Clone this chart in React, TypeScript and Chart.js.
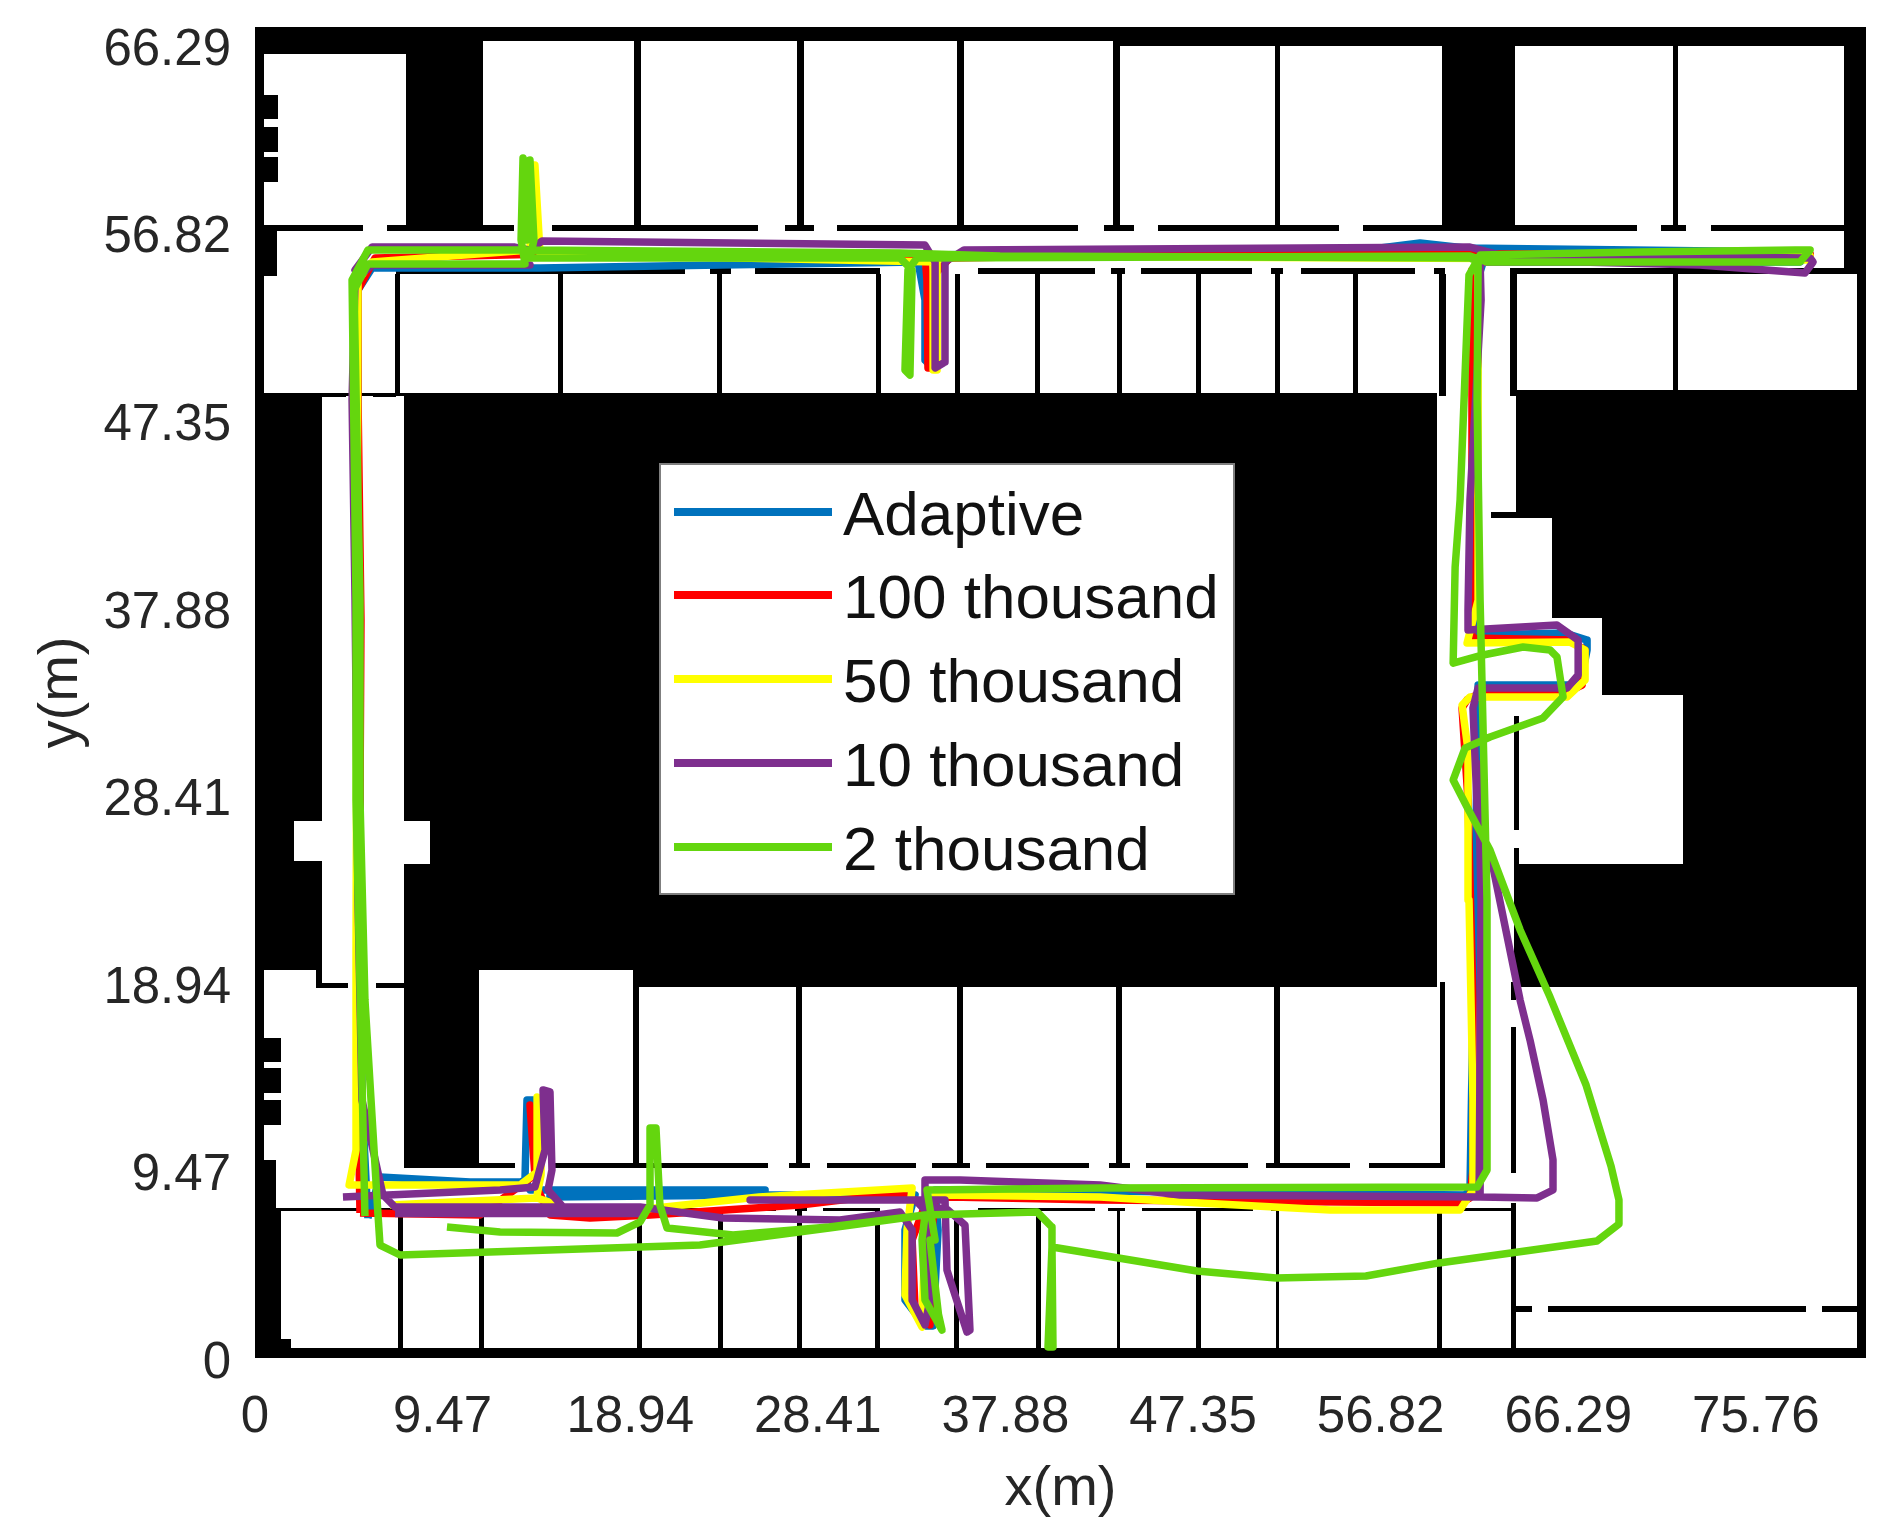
import { useEffect, useRef } from "react"
import { Chart, registerables } from "chart.js"

Chart.register(...registerables)

const FONT = "'Liberation Sans', Arial, sans-serif"

const xTickValues = [0, 9.47, 18.94, 28.41, 37.88, 47.35, 56.82, 66.29, 75.76]
const yTickValues = [0, 9.47, 18.94, 28.41, 37.88, 47.35, 56.82, 66.29]
const xMax = 81.32
const yMax = 67.19

// floor plan, everything in metres. the plot background is black, rooms are cut out of it
const roomRects = [
  [0.45, 65.82, 7.62, 56.89],
  [11.51, 66.48, 43.46, 56.89],
  [43.46, 66.23, 59.92, 56.89],
  [63.6, 66.23, 80.21, 56.89],
  [1.11, 56.89, 80.21, 55.02],
  [0.45, 54.62, 1.11, 48.71],
  [1.11, 55.02, 60.07, 48.71],
  [59.67, 55.02, 63.6, 48.56],
  [63.6, 54.72, 80.87, 48.86],
  [59.67, 48.56, 63.65, 42.71],
  [59.67, 42.71, 62.39, 42.45],
  [59.67, 42.45, 65.47, 37.36],
  [59.67, 37.36, 68.0, 33.47],
  [59.67, 33.47, 72.09, 24.94],
  [59.67, 24.94, 63.76, 0.5],
  [63.6, 18.73, 80.87, 0.5],
  [3.38, 48.56, 7.52, 18.73],
  [1.97, 27.11, 3.38, 25.09],
  [7.52, 27.11, 8.83, 24.94],
  [0.45, 19.59, 3.08, 18.73],
  [0.45, 18.73, 7.52, 9.99],
  [1.06, 9.99, 7.52, 9.59],
  [1.06, 9.59, 59.92, 7.42],
  [11.31, 19.59, 19.08, 9.59],
  [19.38, 18.73, 59.92, 9.59],
  [1.31, 7.42, 63.6, 0.96],
  [1.82, 0.96, 63.6, 0.5],
]

const blockRects = [
  [0.45, 63.76, 1.16, 62.54],
  [0.45, 62.14, 1.16, 60.88],
  [0.45, 60.63, 1.16, 59.36],
  [0.35, 16.15, 1.31, 14.94],
  [0.35, 14.64, 1.31, 13.38],
  [0.35, 13.02, 1.31, 11.76],
]

const horizontalWalls = [
  { y: 57.04, w: 6, runs: [[0.35, 5.45], [6.66, 13.07], [14.99, 25.39], [26.75, 28.22], [29.38, 41.54], [42.86, 44.37], [45.58, 54.72], [55.93, 59.92], [63.6, 69.76], [70.97, 72.24], [73.5, 80.21]] },
  { y: 54.87, w: 6, runs: [[7.12, 21.71], [22.97, 24.03], [25.24, 31.55], [36.5, 42.4], [43.21, 43.92], [44.72, 50.33], [51.29, 51.89], [52.8, 58.56], [59.52, 60.07], [63.35, 64.01], [65.22, 78.29], [79.5, 80.87]] },
  { y: 48.63, w: 3, runs: [[3.38, 4.59], [5.96, 7.12]] },
  { y: 42.58, w: 5, runs: [[62.39, 65.47]] },
  { y: 18.85, w: 5, runs: [[3.08, 4.69], [6.11, 7.52]] },
  { y: 9.72, w: 5, runs: [[11.26, 13.12], [14.99, 25.9], [26.96, 28.02], [28.87, 33.37], [34.17, 36.09], [36.9, 42.1], [43.11, 44.17], [44.98, 50.13], [51.03, 55.27], [56.23, 60.07]] },
  { y: 7.5, w: 3, runs: [[1.06, 26.3], [27.26, 27.87], [28.67, 31.55], [36.5, 42.4], [43.06, 43.92], [44.78, 50.38], [51.29, 63.5]] },
  { y: 2.47, w: 6, runs: [[63.5, 64.46], [65.27, 78.29], [79.1, 80.87]] },
]

const verticalWalls = [
  { from: 56.89, to: 66.5, w: 7, xs: [19.28, 27.51, 35.59, 43.46] },
  { from: 56.89, to: 66.5, w: 5, xs: [51.59, 71.68] },
  { from: 48.71, to: 54.72, w: 5, xs: [7.17, 15.4, 23.42, 31.45, 35.44, 39.47, 43.61, 47.6, 51.59, 55.53, 71.68] },
  { from: 48.56, to: 54.72, w: 7, xs: [59.92, 63.48] },
  { from: 9.59, to: 18.73, w: 6, xs: [27.46, 35.59, 43.61, 51.59] },
  { from: 9.59, to: 18.98, w: 5, xs: [59.92] },
  { from: 0.5, to: 7.42, w: 5, xs: [7.32, 11.41, 19.38, 23.47, 27.46, 31.4, 35.39, 39.53, 47.6, 59.77, 63.5] },
  { from: 0.5, to: 7.42, w: 3, xs: [43.56, 51.59] },
  { from: 18.07, to: 18.98, w: 5, xs: [63.5] },
  { from: 9.34, to: 16.71, w: 5, xs: [63.5] },
  { from: 0.5, to: 7.82, w: 5, xs: [63.5] },
  { from: 26.65, to: 32.41, w: 5, xs: [63.63] },
  { from: 18.98, to: 25.74, w: 5, xs: [63.63] },
]

// estimated trajectories, [x, y] in metres
const adaptive = [
  [5.7, 7.07], [5.4, 13.02], [5.3, 28.17], [5.2, 43.31], [5.2, 53.91], [5.91, 55.02], [14.39, 55.02], [23.47, 55.18],
  [33.47, 55.33], [33.82, 53.41], [33.82, 50.38], [34.18, 49.98], [34.33, 55.68], [47.7, 55.93], [56.79, 56.03],
  [58.81, 56.29], [61.08, 56.03], [77.99, 55.83], [78.5, 55.68], [77.99, 55.33], [62.0, 55.33], [61.74, 54.5],
  [61.74, 36.5], [66.13, 36.6], [67.24, 36.24], [67.24, 35.74], [66.89, 33.97], [61.74, 33.97], [61.74, 33.22],
  [61.33, 8.48], [61.08, 8.23], [37.61, 8.48], [34.33, 8.48], [34.48, 6.46], [34.23, 1.62], [33.82, 1.62], [32.81, 2.93],
  [32.81, 6.46], [33.32, 8.23], [25.49, 8.23], [14.89, 8.13], [14.89, 8.48], [25.75, 8.48], [14.89, 8.48], [13.88, 8.48],
  [13.63, 9.09], [13.73, 13.02], [14.03, 13.02], [14.24, 9.24], [13.38, 8.88], [10.85, 8.88], [6.31, 9.14], [5.7, 7.07],
]

const hundredThousand = [
  [5.3, 7.32], [5.2, 13.02], [5.3, 28.17], [5.35, 37.25], [5.2, 48.36], [5.2, 53.91], [6.06, 55.53], [14.89, 55.73],
  [33.82, 55.68], [33.92, 54.42], [33.97, 49.98], [34.18, 49.98], [34.28, 54.67], [35.08, 55.53], [47.7, 55.73],
  [78.5, 55.73], [78.5, 55.53], [62.34, 55.53], [61.43, 54.92], [61.43, 36.35], [66.38, 36.24], [67.14, 35.74],
  [66.99, 33.97], [66.13, 33.57], [61.84, 33.57], [61.18, 33.22], [60.93, 32.81], [61.23, 28.17], [61.48, 18.07],
  [61.48, 9.49], [61.33, 8.08], [60.83, 7.82], [42.66, 7.98], [35.08, 8.13], [34.33, 7.98], [34.07, 5.45], [34.07, 1.67],
  [33.32, 2.42], [33.17, 5.96], [33.82, 7.72], [32.56, 8.33], [27.51, 7.72], [19.94, 7.22], [16.91, 7.07], [14.89, 7.22],
  [14.29, 8.48], [14.13, 9.74], [14.03, 12.01], [13.88, 12.77], [14.13, 9.24], [11.36, 7.22], [5.3, 7.32],
]

const fiftyThousand = [
  [6.81, 7.72], [14.24, 8.08], [14.99, 7.82], [15.14, 7.42], [18.78, 7.42], [25.44, 8.13], [33.17, 8.58], [32.91, 6.46],
  [32.81, 3.18], [33.67, 1.56], [33.82, 6.46], [34.33, 8.23], [42.66, 8.13], [47.7, 7.82], [54.27, 7.47], [60.83, 7.47],
  [61.48, 8.48], [61.48, 13.02], [61.28, 23.12], [61.23, 30.69], [60.93, 32.96], [61.33, 33.37], [66.23, 33.37],
  [67.14, 34.23], [67.14, 35.74], [66.38, 36.14], [61.18, 36.09], [61.74, 38.26], [61.74, 53.41], [61.74, 55.33],
  [78.5, 55.63], [78.5, 55.43], [35.08, 55.63], [34.23, 55.33], [34.23, 49.87], [34.43, 49.87], [34.43, 55.33],
  [14.39, 55.73], [14.13, 60.22], [13.98, 60.22], [13.88, 55.93], [5.91, 55.33], [5.2, 54.42], [5.1, 20.75], [5.1, 10.5],
  [4.75, 8.73], [13.38, 8.73], [14.24, 9.39], [14.24, 13.18], [14.44, 13.02], [14.44, 9.24], [14.24, 8.23],
]

const tenThousand = [
  [4.44, 8.13], [12.37, 8.48], [14.13, 8.63], [14.64, 10.5], [14.54, 13.53], [14.89, 13.43], [14.99, 9.49], [14.79, 8.48],
  [15.55, 7.62], [19.44, 7.62], [23.62, 7.07], [29.53, 6.97], [32.56, 7.37], [33.17, 6.46], [33.17, 2.93], [33.82, 1.67],
  [34.07, 2.93], [33.82, 7.47], [33.32, 7.98], [24.99, 7.98], [34.83, 7.98], [34.93, 4.44], [35.94, 1.31], [36.09, 1.41],
  [35.84, 6.71], [34.98, 7.47], [33.82, 7.72], [33.82, 8.99], [35.59, 8.99], [42.66, 8.73], [46.69, 8.23], [61.79, 8.13],
  [61.89, 23.0], [61.74, 30.0], [61.89, 23.0], [61.84, 8.13],
  [64.72, 8.08], [65.52, 8.48], [65.52, 10.0], [65.02, 13.02], [64.36, 16.05], [63.86, 18.07], [62.49, 24.79], [61.74, 26.65],
  [61.48, 32.81], [61.74, 33.82], [66.23, 33.82], [66.79, 34.48], [66.79, 36.24], [65.72, 37.0], [61.23, 36.75], [61.23, 37.76],
  [61.33, 43.31], [61.89, 53.41], [61.84, 55.33], [66.89, 55.33], [72.94, 55.18], [78.24, 54.77], [78.65, 55.33], [78.5, 55.53],
  [62.85, 55.68], [61.33, 56.08], [35.79, 55.93], [34.83, 55.33], [34.83, 50.28], [34.33, 49.98], [34.33, 55.33], [33.82, 56.18],
  [14.49, 56.39], [13.88, 55.93], [13.12, 56.08], [5.91, 56.08], [5.05, 54.92], [5.81, 55.18], [13.88, 55.18], [5.91, 55.18],
  [5.05, 54.42], [4.9, 48.36], [5.05, 38.26], [5.2, 23.12], [5.4, 13.02], [6.46, 8.23], [7.07, 7.62], [19.44, 7.62],
  [19.44, 7.3], [7.07, 7.3],
]

const twoThousand = [
  [9.69, 6.61], [12.37, 6.36], [18.27, 6.31], [19.44, 6.87], [19.94, 7.72], [19.94, 11.61], [20.24, 11.61], [20.44, 7.72],
  [20.8, 6.56], [24.13, 6.21], [28.98, 6.61], [33.82, 7.22], [39.48, 7.37], [40.23, 6.61], [40.23, 5.6], [40.03, 0.56],
  [40.28, 0.56], [40.23, 5.6], [47.55, 4.39], [51.54, 4.04], [56.08, 4.14], [59.77, 4.8], [67.74, 5.91], [68.85, 6.76],
  [68.85, 7.98], [68.45, 9.69], [67.19, 13.78], [65.37, 18.22], [63.86, 21.61], [62.34, 25.64], [61.18, 27.81], [60.48, 29.18],
  [61.08, 30.79], [62.34, 31.35], [65.02, 32.31], [66.03, 33.37], [65.72, 35.39], [65.37, 35.74], [64.01, 35.89], [61.99, 35.49],
  [60.48, 35.08], [60.58, 39.93], [60.83, 43.31], [61.28, 54.67], [61.84, 55.68], [69.91, 55.83], [77.74, 55.93], [78.5, 55.93],
  [77.99, 55.33], [69.91, 55.33], [62.19, 55.33], [61.33, 55.63], [33.42, 55.53], [32.96, 54.92], [32.81, 49.87], [33.06, 49.62],
  [33.17, 54.92], [32.56, 55.53], [13.88, 55.53], [14.08, 56.44], [13.88, 60.48], [13.73, 60.4], [13.73, 56.44], [13.53, 60.58],
  [13.43, 56.44], [13.63, 55.23], [5.7, 55.23], [5.0, 53.91], [5.3, 38.26], [5.3, 28.17], [5.55, 18.07], [6.21, 7.22], [6.31, 5.7],
  [7.32, 5.2], [22.46, 5.7], [28.98, 6.56], [33.82, 7.22], [33.67, 5.96], [33.82, 2.93], [34.68, 1.41], [34.5, 2.2], [34.07, 5.96],
  [34.33, 5.96], [33.92, 8.48], [42.66, 8.58], [61.69, 8.63], [62.19, 9.49], [62.19, 23.12], [61.84, 38.26], [61.69, 48.36],
  [61.74, 55.33], [61.33, 55.53], [37.61, 55.63], [32.56, 55.78], [13.88, 55.93], [5.7, 55.93], [4.9, 54.42], [5.1, 38.26],
  [5.1, 28.17], [5.55, 7.17],
]

const seriesNames = ["Adaptive", "100 thousand", "50 thousand", "10 thousand", "2 thousand"]
const seriesPoints = [adaptive, hundredThousand, fiftyThousand, tenThousand, twoThousand]
const seriesColors = ["#0072BD", "#FF0000", "#FFFF00", "#7E2F8E", "#64D60E"]

const floorPlan = {
  id: "floorPlan",
  beforeDatasetsDraw(chart: any) {
    const { ctx, chartArea, scales } = chart
    const px = (v: number) => Math.round(scales.x.getPixelForValue(v))
    const py = (v: number) => Math.round(scales.y.getPixelForValue(v))
    const fillRect = (r: number[]) => ctx.fillRect(px(r[0]), py(r[1]), px(r[2]) - px(r[0]), py(r[3]) - py(r[1]))

    ctx.save()
    ctx.fillStyle = "#000"
    ctx.fillRect(chartArea.left, chartArea.top, chartArea.width, chartArea.height)
    ctx.fillStyle = "#fff"
    roomRects.forEach(fillRect)
    ctx.fillStyle = "#000"
    blockRects.forEach(fillRect)
    horizontalWalls.forEach((wall) => {
      wall.runs.forEach((run) => {
        ctx.fillRect(px(run[0]), py(wall.y) - Math.floor(wall.w / 2), px(run[1]) - px(run[0]), wall.w)
      })
    })
    verticalWalls.forEach((wall) => {
      wall.xs.forEach((x) => {
        ctx.fillRect(px(x) - Math.floor(wall.w / 2), py(wall.to), wall.w, py(wall.from) - py(wall.to))
      })
    })
    ctx.restore()
  },
}

// the legend sits inside the plot, over the black block
const insideLegend = {
  id: "insideLegend",
  afterDatasetsDraw(chart: any) {
    const { ctx } = chart
    const rows = [512, 595, 679, 763, 847]
    ctx.save()
    ctx.fillStyle = "#fff"
    ctx.fillRect(660, 464, 574, 430)
    ctx.strokeStyle = "#7f7f7f"
    ctx.lineWidth = 2
    ctx.strokeRect(660, 464, 574, 430)
    ctx.font = `62px ${FONT}`
    ctx.textBaseline = "middle"
    ctx.textAlign = "left"
    chart.data.datasets.forEach((ds: any, i: number) => {
      ctx.fillStyle = ds.borderColor
      ctx.fillRect(674, rows[i] - 4, 158, 8)
      ctx.fillStyle = "#111"
      ctx.fillText(ds.label, 843, rows[i] + 6)
    })
    ctx.restore()
  },
}

export default function App() {
  const canvasRef = useRef<HTMLCanvasElement>(null)

  useEffect(() => {
    if (!canvasRef.current) return

    const chart = new Chart(canvasRef.current, {
      type: "scatter",
      data: {
        datasets: seriesNames.map((name, i) => ({
          label: name,
          data: seriesPoints[i].map((p) => ({ x: p[0], y: p[1] })),
          showLine: true,
          // chart.js paints the highest order first, the 2 thousand run has to end up on top
          order: seriesNames.length - i,
          borderColor: seriesColors[i],
          backgroundColor: seriesColors[i],
          borderWidth: 7.5,
          borderJoinStyle: "round",
          pointRadius: 0,
        })),
      },
      options: {
        responsive: false,
        animation: false,
        layout: { padding: { top: 27, right: 17, left: 0, bottom: 0 } },
        plugins: {
          legend: { display: false },
          tooltip: { enabled: false },
        },
        scales: {
          x: {
            type: "linear",
            min: 0,
            max: xMax,
            grid: { display: false },
            border: { display: false },
            afterBuildTicks: (scale: any) => {
              scale.ticks = xTickValues.map((value) => ({ value }))
            },
            afterFit: (scale: any) => {
              scale.height = 173
            },
            ticks: {
              autoSkip: false,
              maxRotation: 0,
              padding: 26,
              color: "#262626",
              font: { family: FONT, size: 51, lineHeight: 1 },
              callback: (v: any) => String(v),
            },
            title: {
              display: true,
              text: "x(m)",
              color: "#262626",
              font: { family: FONT, size: 56, lineHeight: 1 },
              padding: { top: 30, bottom: 13 },
            },
          },
          y: {
            type: "linear",
            min: 0,
            max: yMax,
            grid: { display: false },
            border: { display: false },
            afterBuildTicks: (scale: any) => {
              scale.ticks = yTickValues.map((value) => ({ value }))
            },
            afterFit: (scale: any) => {
              scale.width = 255
              scale.paddingTop = 0
              scale.paddingBottom = 0
            },
            ticks: {
              autoSkip: false,
              padding: 16,
              labelOffset: 6,
              color: "#262626",
              font: { family: FONT, size: 51, lineHeight: 1 },
              callback: (v: any) => String(v),
            },
            title: {
              display: true,
              text: "y(m)",
              color: "#262626",
              font: { family: FONT, size: 56, lineHeight: 1 },
              padding: { top: 34, bottom: 0 },
            },
          },
        },
      },
      plugins: [floorPlan, insideLegend],
    } as any)

    return () => {
      chart.destroy()
    }
  }, [])

  return (
    <div style={{ position: "absolute", left: 0, top: 0, width: 1883, height: 1531 }}>
      <canvas ref={canvasRef} width={1883} height={1531} style={{ display: "block" }}></canvas>
    </div>
  )
}
